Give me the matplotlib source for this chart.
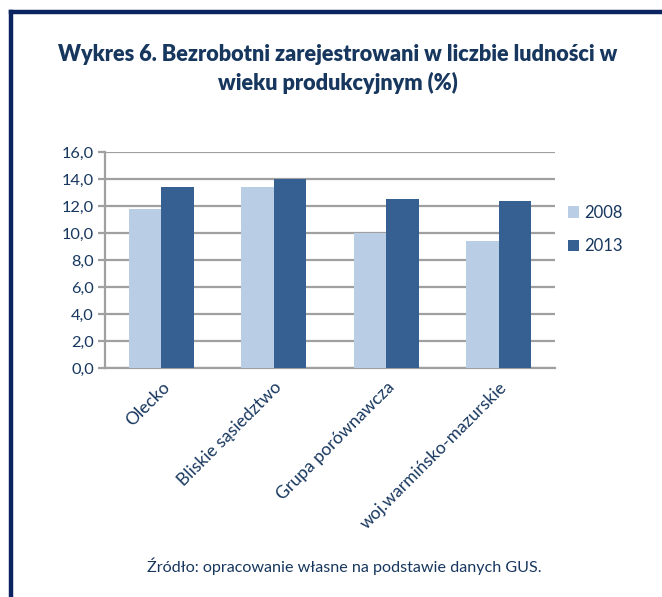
import numpy as np
import matplotlib.pyplot as plt
from matplotlib.lines import Line2D

plt.rcParams['font.family'] = ['Lato', 'DejaVu Sans']

# -----------------------------
# data
# -----------------------------
categories = ["Olecko", "Bliskie sąsiedztwo", "Grupa porównawcza", "woj.warmińsko-mazurskie"]
years = ["2008", "2013"]
values_2008 = [11.8, 13.4, 10.0, 9.4]
values_2013 = [13.4, 14.0, 12.5, 12.4]
yticks = [0, 2, 4, 6, 8, 10, 12, 14, 16]

text_col = "#17375E"
frame_col = "#0B2461"
col_2008 = "#B9CDE5"
col_2013 = "#376092"
grid_col = "#A0A0A0"

fig = plt.figure(figsize=(6.62, 5.97), dpi=100)

# outer frame (left + top navy lines)
fig.add_artist(Line2D([0.0167, 0.0167], [0.0, 0.98], transform=fig.transFigure,
                      color=frame_col, lw=3.2, solid_capstyle="projecting"))
fig.add_artist(Line2D([0.0167, 1.0], [0.98, 0.98], transform=fig.transFigure,
                      color=frame_col, lw=3.2, solid_capstyle="projecting"))

fig.text(0.51, 0.885, "Wykres 6. Bezrobotni zarejestrowani w liczbie ludności w\nwieku produkcyjnym (%)",
         ha="center", va="center", fontsize=15.6, fontweight="heavy", color=text_col,
         linespacing=1.4)

ax = fig.add_axes([0.1586, 0.3836, 0.6798, 0.3618])

x = np.arange(len(categories))
w = 0.287
ax.bar(x - w / 2, values_2008, width=w, color=col_2008, label=years[0], zorder=3)
ax.bar(x + w / 2, values_2013, width=w, color=col_2013, label=years[1], zorder=3)

ax.set_xlim(-0.5, len(categories) - 0.5)
ax.set_ylim(0, 16)
ax.set_yticks(yticks)
ax.set_yticklabels([f"{v:.1f}".replace(".", ",") for v in yticks])
ax.yaxis.grid(True, color=grid_col, lw=1.6, zorder=0)
ax.set_axisbelow(True)

for s in ["top", "right"]:
    ax.spines[s].set_visible(False)
for s in ["left", "bottom"]:
    ax.spines[s].set_color(grid_col)
    ax.spines[s].set_linewidth(1.6)

ax.tick_params(axis="y", colors=grid_col, labelcolor=text_col, labelsize=11.8,
               length=5, width=1.6, pad=3)
ax.tick_params(axis="x", length=0, pad=8)
ax.set_xticks(x)
ax.set_xticklabels(categories, rotation=45, ha="right", rotation_mode="anchor",
                   fontsize=12.6, color=text_col)

leg = ax.legend(loc="upper left", bbox_to_anchor=(0.995, 0.825), frameon=False,
                fontsize=12, labelcolor=text_col, handlelength=0.65, handleheight=0.65,
                handletextpad=0.35, labelspacing=1.05)

fig.text(0.52, 0.052, "Źródło: opracowanie własne na podstawie danych GUS.",
         ha="center", va="center", fontsize=11.6, color=text_col)

plt.savefig("out.png", dpi=100)
